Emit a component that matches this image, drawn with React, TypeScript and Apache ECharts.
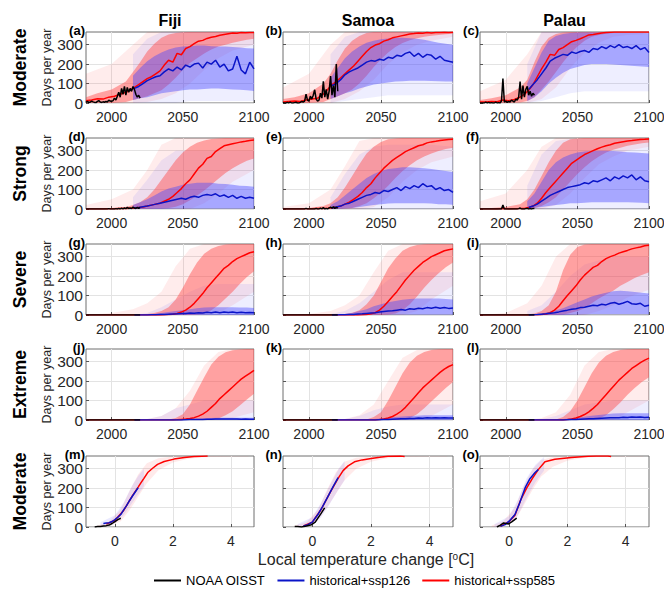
import React, { useEffect, useRef } from "react";
import * as echarts from "echarts";

type Pt = [number, number];

// ---------- x positions ----------
const years = [1982, 1986, 1990, 1994, 1998, 2002, 2006, 2010, 2013, 2016, 2019, 2022, 2025, 2028, 2031, 2034, 2037, 2040, 2043, 2046, 2049, 2052, 2055, 2058, 2061, 2064, 2067, 2070, 2073, 2076, 2079, 2082, 2085, 2088, 2091, 2094, 2097, 2100];
const blueYears = [2016, 2019, 2022, 2025, 2028, 2031, 2034, 2037, 2040, 2043, 2046, 2049, 2052, 2055, 2058, 2061, 2064, 2067, 2070, 2073, 2076, 2079, 2082, 2085, 2088, 2091, 2094, 2097, 2100];
const bandYears = [1982, 1990, 2000, 2010, 2015, 2020, 2025, 2030, 2035, 2040, 2045, 2050, 2055, 2060, 2065, 2070, 2075, 2080, 2085, 2090, 2095, 2100];
const blueBandYears = [2015, 2020, 2025, 2030, 2035, 2040, 2045, 2050, 2055, 2060, 2065, 2070, 2075, 2080, 2085, 2090, 2095, 2100];
const envYears = [1982, 2000, 2015, 2025, 2035, 2045, 2055, 2065, 2075, 2085, 2100];
const blueEnvYears = [2015, 2025, 2035, 2045, 2055, 2065, 2075, 2085, 2100];
const obsYears = [1982, 1983, 1984, 1985, 1986, 1987, 1988, 1989, 1990, 1991, 1992, 1993, 1994, 1995, 1996, 1997, 1998, 1999, 2000, 2001, 2002, 2003, 2004, 2005, 2006, 2007, 2008, 2009, 2010, 2011, 2012, 2013, 2014, 2015, 2016, 2017, 2018, 2019, 2020];

// ---------- labels ----------
const columns = ["Fiji", "Samoa", "Palau"];
const rowNames = ["Moderate", "Strong", "Severe", "Extreme", "Moderate"];
const letters = ["a", "b", "c", "d", "e", "f", "g", "h", "i", "j", "k", "l", "m", "n", "o"];
const yearTicks = [2000, 2050, 2100];
const tempTicks = [0, 2, 4];
const dayTicks = [0, 100, 200, 300];
const legendNames = ["NOAA OISST", "historical+ssp126", "historical+ssp585"];

// ---------- ssp585 ensemble mean ----------
const redA = [12, 15, 22, 20, 30, 35, 45, 55, 65, 80, 95, 110, 125, 135, 150, 165, 195, 220, 210, 255, 248, 280, 290, 305, 318, 322, 332, 338, 342, 348, 352, 356, 360, 358, 362, 361, 363, 362];
const redB = [5, 8, 10, 8, 15, 20, 25, 45, 70, 95, 110, 130, 150, 170, 190, 215, 240, 265, 285, 298, 305, 318, 325, 335, 340, 345, 350, 355, 357, 360, 358, 362, 360, 363, 362, 364, 363, 364];
const redC = [5, 5, 8, 6, 15, 12, 18, 30, 45, 65, 95, 135, 175, 210, 250, 245, 275, 285, 300, 315, 322, 330, 340, 350, 352, 356, 360, 362, 364, 365, 365, 365, 365, 365, 365, 365, 365, 365];
const redD = [0, 0, 0, 0, 1, 1, 2, 3, 4, 5, 8, 10, 15, 20, 25, 30, 40, 50, 65, 85, 105, 130, 150, 180, 210, 230, 260, 270, 295, 310, 325, 330, 335, 340, 345, 348, 352, 355];
const redE = [0, 0, 0, 0, 1, 1, 2, 3, 4, 6, 10, 15, 25, 35, 50, 65, 85, 110, 130, 160, 185, 210, 230, 250, 265, 280, 295, 305, 315, 325, 330, 340, 345, 348, 352, 355, 357, 358];
const redF = [0, 0, 0, 0, 2, 0, 1, 2, 3, 8, 15, 30, 55, 85, 110, 135, 160, 185, 210, 235, 250, 265, 280, 290, 300, 310, 318, 325, 330, 338, 342, 346, 350, 352, 355, 357, 358, 360];
const redG = [0, 0, 0, 0, 0, 0, 0, 0, 0, 0, 0, 0, 0, 0, 0, 0, 1, 2, 4, 8, 15, 25, 40, 60, 85, 110, 140, 165, 190, 215, 240, 255, 275, 290, 300, 310, 320, 325];
const redH = [0, 0, 0, 0, 0, 0, 0, 0, 0, 0, 0, 0, 0, 0, 0, 0, 1, 3, 6, 12, 25, 45, 70, 95, 120, 150, 180, 205, 230, 250, 270, 285, 300, 310, 320, 330, 335, 340];
const redI = [0, 0, 0, 0, 0, 0, 0, 0, 0, 0, 1, 1, 2, 5, 12, 25, 45, 73, 100, 125, 150, 180, 205, 225, 245, 255, 275, 290, 300, 308, 318, 325, 332, 340, 345, 350, 356, 358];
const redJ = [0, 0, 0, 0, 0, 0, 0, 0, 0, 0, 0, 0, 0, 0, 0, 0, 0, 0, 0, 1, 3, 5, 8, 12, 20, 30, 45, 65, 85, 110, 130, 150, 170, 190, 210, 225, 240, 255];
const redK = [0, 0, 0, 0, 0, 0, 0, 0, 0, 0, 0, 0, 0, 0, 0, 0, 0, 0, 0, 0, 2, 5, 10, 18, 30, 45, 65, 90, 115, 140, 165, 185, 205, 225, 245, 262, 275, 285];
const redL = [0, 0, 0, 0, 0, 0, 0, 0, 0, 0, 0, 0, 0, 0, 0, 0, 0, 0, 2, 5, 10, 18, 28, 42, 60, 80, 105, 130, 155, 180, 205, 225, 245, 265, 280, 295, 308, 318];

// ---------- ssp126 ensemble mean ----------
const blueA = [75, 85, 100, 115, 125, 135, 140, 160, 175, 165, 185, 170, 195, 185, 200, 205, 180, 210, 200, 220, 185, 200, 165, 175, 240, 170, 150, 210, 175];
const blueB = [90, 100, 120, 145, 160, 170, 180, 195, 210, 218, 215, 225, 220, 235, 230, 245, 240, 255, 262, 240, 255, 235, 250, 245, 225, 240, 220, 215, 210];
const blueC = [70, 95, 120, 150, 180, 215, 230, 240, 250, 245, 262, 255, 265, 270, 260, 280, 275, 290, 280, 295, 285, 300, 285, 290, 280, 295, 275, 285, 260];
const blueD = [5, 8, 12, 15, 20, 25, 30, 35, 40, 45, 50, 55, 50, 60, 65, 60, 70, 75, 70, 78, 65, 72, 60, 70, 55, 65, 55, 60, 55];
const blueE = [5, 10, 15, 25, 30, 40, 50, 60, 70, 75, 85, 80, 95, 90, 100, 110, 95, 115, 105, 120, 110, 130, 115, 120, 100, 110, 95, 100, 85];
const blueF = [8, 15, 25, 40, 55, 70, 80, 90, 100, 110, 115, 120, 125, 135, 130, 145, 140, 150, 160, 145, 165, 155, 170, 160, 175, 150, 165, 145, 140];
const blueG = [0, 0, 0, 0, 1, 1, 2, 3, 4, 5, 6, 8, 8, 10, 9, 12, 10, 14, 12, 15, 12, 16, 13, 15, 12, 14, 12, 13, 12];
const blueH = [0, 0, 1, 1, 2, 3, 5, 6, 8, 10, 12, 15, 18, 20, 22, 25, 28, 25, 32, 30, 35, 32, 38, 35, 40, 35, 38, 34, 36];
const blueI = [0, 1, 2, 4, 6, 9, 12, 16, 21, 25, 30, 32, 38, 40, 45, 50, 48, 55, 52, 60, 64, 55, 62, 70, 58, 55, 60, 45, 50];
const blueJ = [0, 0, 0, 0, 0, 0, 0, 0, 0, 0, 0, 0, 1, 2, 2, 3, 3, 4, 4, 5, 5, 5, 5, 5, 5, 4, 5, 4, 4];
const blueK = [0, 0, 0, 0, 0, 0, 0, 0, 0, 0, 0, 1, 2, 3, 4, 5, 6, 7, 8, 8, 10, 9, 11, 10, 12, 10, 11, 10, 10];
const blueL = [0, 0, 0, 0, 0, 0, 0, 0, 0, 1, 2, 3, 4, 5, 6, 7, 8, 9, 10, 11, 12, 12, 14, 13, 15, 14, 15, 13, 14];

// ---------- ssp585 spread (low / high) ----------
const redLoA = [0, 0, 0, 5, 15, 25, 35, 50, 65, 95, 130, 170, 205, 230, 255, 275, 290, 300, 310, 318, 325, 330];
const redHiA = [30, 50, 70, 110, 160, 210, 265, 305, 335, 352, 360, 364, 365, 365, 365, 365, 365, 365, 365, 365, 365, 365];
const redLoB = [0, 0, 0, 5, 20, 35, 50, 70, 100, 140, 185, 225, 260, 288, 308, 322, 333, 340, 346, 350, 354, 356];
const redHiB = [20, 30, 50, 100, 150, 220, 280, 320, 345, 360, 365, 365, 365, 365, 365, 365, 365, 365, 365, 365, 365, 365];
const redLoC = [0, 0, 0, 3, 10, 30, 70, 110, 160, 210, 255, 290, 320, 340, 350, 356, 360, 362, 363, 364, 365, 365];
const redHiC = [15, 25, 40, 80, 120, 210, 290, 335, 355, 363, 365, 365, 365, 365, 365, 365, 365, 365, 365, 365, 365, 365];
const redLoD = [0, 0, 0, 0, 0, 0, 0, 2, 3, 5, 12, 25, 45, 70, 95, 125, 155, 185, 210, 230, 248, 260];
const redHiD = [0, 2, 5, 10, 20, 35, 60, 100, 150, 200, 250, 290, 320, 340, 352, 360, 363, 365, 365, 365, 365, 365];
const redLoE = [0, 0, 0, 0, 0, 0, 2, 5, 15, 30, 55, 85, 120, 160, 195, 225, 250, 270, 285, 298, 308, 315];
const redHiE = [0, 2, 5, 15, 30, 60, 110, 170, 230, 285, 320, 345, 358, 363, 365, 365, 365, 365, 365, 365, 365, 365];
const redLoF = [0, 0, 0, 0, 0, 5, 15, 35, 60, 100, 140, 180, 215, 245, 270, 290, 305, 315, 325, 332, 338, 342];
const redHiF = [5, 5, 10, 25, 50, 100, 170, 240, 300, 340, 358, 363, 365, 365, 365, 365, 365, 365, 365, 365, 365, 365];
const redLoG = [0, 0, 0, 0, 0, 0, 0, 0, 0, 0, 0, 0, 0, 2, 8, 25, 50, 85, 120, 160, 195, 225];
const redHiG = [0, 0, 0, 0, 0, 2, 5, 10, 20, 40, 80, 140, 210, 270, 315, 340, 355, 362, 365, 365, 365, 365];
const redLoH = [0, 0, 0, 0, 0, 0, 0, 0, 0, 0, 0, 0, 2, 8, 25, 55, 95, 140, 180, 215, 245, 270];
const redHiH = [0, 0, 0, 0, 0, 2, 5, 12, 25, 55, 100, 170, 240, 290, 330, 350, 360, 364, 365, 365, 365, 365];
const redLoI = [0, 0, 0, 0, 0, 0, 0, 0, 0, 2, 10, 20, 35, 60, 85, 105, 125, 150, 170, 190, 205, 220];
const redHiI = [0, 0, 0, 0, 2, 8, 20, 50, 120, 230, 310, 350, 363, 365, 365, 365, 365, 365, 365, 365, 365, 365];
const redLoJ = [0, 0, 0, 0, 0, 0, 0, 0, 0, 0, 0, 0, 0, 0, 0, 2, 8, 25, 45, 75, 105, 135];
const redHiJ = [0, 0, 0, 0, 0, 0, 0, 0, 0, 2, 10, 30, 80, 150, 220, 285, 325, 348, 358, 363, 365, 365];
const redLoK = [0, 0, 0, 0, 0, 0, 0, 0, 0, 0, 0, 0, 0, 0, 2, 10, 30, 60, 95, 130, 165, 195];
const redHiK = [0, 0, 0, 0, 0, 0, 0, 0, 0, 3, 15, 40, 100, 170, 240, 295, 330, 350, 360, 364, 365, 365];
const redLoL = [0, 0, 0, 0, 0, 0, 0, 0, 0, 0, 0, 0, 0, 2, 8, 25, 55, 90, 130, 165, 195, 220];
const redHiL = [0, 0, 0, 0, 0, 0, 0, 0, 3, 15, 45, 100, 170, 240, 295, 330, 350, 360, 364, 365, 365, 365];

// ---------- ssp126 spread (low / high) ----------
const blueLoA = [15, 25, 30, 40, 50, 55, 60, 65, 70, 70, 72, 75, 75, 72, 70, 68, 65, 62];
const blueHiA = [140, 180, 215, 240, 260, 275, 285, 290, 292, 295, 295, 292, 290, 290, 288, 285, 282, 280];
const blueLoB = [20, 35, 50, 60, 75, 85, 95, 100, 105, 110, 112, 115, 115, 115, 113, 112, 110, 110];
const blueHiB = [130, 180, 230, 265, 290, 310, 320, 328, 332, 335, 335, 333, 330, 325, 318, 310, 305, 300];
const blueLoC = [10, 30, 60, 100, 130, 155, 175, 185, 195, 200, 200, 200, 198, 195, 193, 190, 188, 185];
const blueHiC = [100, 180, 260, 320, 345, 355, 360, 362, 363, 363, 363, 362, 362, 361, 360, 360, 360, 358];
const blueLoD = [0, 0, 0, 0, 0, 1, 2, 2, 3, 3, 3, 3, 3, 3, 3, 2, 2, 2];
const blueHiD = [20, 35, 50, 70, 90, 105, 115, 125, 130, 135, 135, 135, 130, 128, 125, 120, 118, 115];
const blueLoE = [0, 0, 2, 5, 10, 15, 20, 25, 28, 30, 30, 30, 30, 30, 28, 25, 25, 22];
const blueHiE = [20, 40, 70, 100, 130, 160, 180, 195, 205, 210, 215, 215, 212, 210, 205, 200, 195, 190];
const blueLoF = [0, 5, 10, 15, 20, 25, 30, 30, 32, 35, 35, 35, 35, 35, 35, 33, 32, 30];
const blueHiF = [40, 80, 140, 200, 240, 265, 280, 290, 295, 298, 300, 300, 298, 295, 292, 290, 288, 285];
const blueLoG = [0, 0, 0, 0, 0, 0, 0, 0, 0, 0, 0, 0, 0, 0, 0, 0, 0, 0];
const blueHiG = [0, 0, 2, 5, 10, 15, 20, 25, 30, 35, 38, 40, 40, 40, 40, 38, 38, 36];
const blueLoH = [0, 0, 0, 0, 0, 0, 1, 2, 3, 3, 3, 3, 3, 3, 3, 3, 3, 3];
const blueHiH = [0, 2, 5, 10, 20, 30, 45, 55, 65, 72, 78, 82, 85, 85, 85, 85, 82, 80];
const blueLoI = [0, 0, 0, 0, 0, 0, 1, 2, 4, 5, 5, 5, 5, 5, 5, 5, 5, 5];
const blueHiI = [0, 3, 8, 15, 25, 35, 50, 65, 80, 95, 105, 115, 122, 125, 122, 118, 115, 110];
const blueLoJ = [0, 0, 0, 0, 0, 0, 0, 0, 0, 0, 0, 0, 0, 0, 0, 0, 0, 0];
const blueHiJ = [0, 0, 0, 0, 0, 0, 1, 3, 4, 6, 8, 10, 11, 12, 12, 12, 12, 12];
const blueLoK = [0, 0, 0, 0, 0, 0, 0, 0, 0, 0, 0, 0, 0, 0, 0, 0, 0, 0];
const blueHiK = [0, 0, 0, 0, 0, 2, 5, 8, 12, 15, 18, 20, 22, 25, 25, 25, 25, 25];
const blueLoL = [0, 0, 0, 0, 0, 0, 0, 0, 0, 0, 0, 0, 0, 0, 0, 0, 0, 0];
const blueHiL = [0, 0, 0, 0, 2, 5, 8, 12, 17, 22, 26, 30, 33, 35, 35, 35, 35, 35];

// ---------- faint envelope of individual members (outer range) ----------
const redOutHiA = [150, 200, 300, 365, 365, 365, 365, 365, 365, 365, 365];
const redOutLoA = [0, 0, 0, 5, 20, 50, 100, 170, 230, 270, 300];
const blueOutHiA = [250, 330, 365, 365, 365, 365, 365, 365, 365];
const blueOutLoA = [0, 0, 0, 0, 10, 10, 10, 10, 10];
const redOutHiB = [80, 150, 300, 365, 365, 365, 365, 365, 365, 365, 365];
const redOutLoB = [0, 0, 0, 20, 60, 120, 200, 260, 300, 320, 340];
const blueOutHiB = [250, 340, 365, 365, 365, 365, 365, 365, 365];
const blueOutLoB = [0, 10, 20, 30, 40, 40, 40, 40, 40];
const redOutHiC = [60, 120, 250, 365, 365, 365, 365, 365, 365, 365, 365];
const redOutLoC = [0, 0, 0, 20, 80, 180, 260, 310, 340, 350, 355];
const blueOutHiC = [200, 365, 365, 365, 365, 365, 365, 365, 365];
const blueOutLoC = [0, 10, 30, 50, 60, 60, 60, 60, 60];
const redOutHiD = [20, 50, 100, 200, 330, 365, 365, 365, 365, 365, 365];
const redOutLoD = [0, 0, 0, 0, 0, 0, 0, 30, 80, 140, 200];
const blueOutHiD = [60, 150, 250, 300, 300, 300, 300, 300, 300];
const blueOutLoD = [0, 0, 0, 0, 0, 0, 0, 0, 0];
const redOutHiE = [10, 30, 100, 220, 350, 365, 365, 365, 365, 365, 365];
const redOutLoE = [0, 0, 0, 0, 0, 10, 60, 140, 200, 240, 270];
const blueOutHiE = [60, 180, 280, 320, 330, 330, 330, 330, 320];
const blueOutLoE = [0, 0, 0, 0, 0, 0, 0, 0, 0];
const redOutHiF = [40, 80, 200, 320, 365, 365, 365, 365, 365, 365, 365];
const redOutLoF = [0, 0, 0, 0, 20, 80, 160, 230, 270, 300, 320];
const blueOutHiF = [120, 280, 350, 360, 360, 360, 360, 360, 360];
const blueOutLoF = [0, 0, 0, 0, 0, 0, 0, 0, 0];
const redOutHiG = [0, 10, 30, 60, 120, 250, 340, 365, 365, 365, 365];
const redOutLoG = [0, 0, 0, 0, 0, 0, 0, 0, 10, 50, 120];
const blueOutHiG = [0, 10, 40, 80, 120, 150, 160, 160, 160];
const blueOutLoG = [0, 0, 0, 0, 0, 0, 0, 0, 0];
const redOutHiH = [0, 5, 20, 50, 100, 220, 330, 365, 365, 365, 365];
const redOutLoH = [0, 0, 0, 0, 0, 0, 0, 0, 20, 80, 150];
const blueOutHiH = [5, 20, 60, 120, 180, 220, 220, 220, 220];
const blueOutLoH = [0, 0, 0, 0, 0, 0, 0, 0, 0];
const redOutHiI = [0, 10, 60, 150, 300, 365, 365, 365, 365, 365, 365];
const redOutLoI = [0, 0, 0, 0, 0, 0, 0, 20, 50, 90, 130];
const blueOutHiI = [20, 50, 120, 200, 260, 280, 300, 300, 300];
const blueOutLoI = [0, 0, 0, 0, 0, 0, 0, 0, 0];
const redOutHiJ = [0, 0, 0, 5, 20, 60, 150, 280, 350, 365, 365];
const redOutLoJ = [0, 0, 0, 0, 0, 0, 0, 0, 0, 10, 40];
const blueOutHiJ = [0, 5, 20, 60, 80, 100, 100, 100, 100];
const blueOutLoJ = [0, 0, 0, 0, 0, 0, 0, 0, 0];
const redOutHiK = [0, 0, 0, 5, 25, 80, 200, 320, 360, 365, 365];
const redOutLoK = [0, 0, 0, 0, 0, 0, 0, 0, 0, 20, 80];
const blueOutHiK = [0, 5, 20, 50, 70, 80, 80, 80, 80];
const blueOutLoK = [0, 0, 0, 0, 0, 0, 0, 0, 0];
const redOutHiL = [0, 0, 0, 10, 40, 130, 280, 350, 365, 365, 365];
const redOutLoL = [0, 0, 0, 0, 0, 0, 0, 0, 0, 40, 100];
const blueOutHiL = [0, 5, 20, 50, 80, 90, 100, 100, 100];
const blueOutLoL = [0, 0, 0, 0, 0, 0, 0, 0, 0];

// ---------- NOAA OISST observations ----------
const obsA = [3, 8, 2, 5, 10, 6, 3, 2, 8, 12, 5, 3, 6, 4, 8, 5, 15, 10, 8, 12, 25, 15, 35, 55, 30, 75, 45, 85, 40, 80, 55, 75, 60, 85, 70, 45, 30, 40, 25];
const obsB = [2, 0, 0, 3, 0, 5, 0, 0, 2, 4, 0, 0, 3, 8, 5, 10, 45, 15, 10, 35, 20, 40, 68, 20, 10, 15, 50, 25, 112, 30, 70, 20, 60, 138, 40, 90, 30, 200, 60];
const obsC = [0, 0, 0, 0, 5, 0, 3, 0, 2, 0, 0, 5, 0, 2, 0, 10, 126, 5, 10, 3, 8, 5, 15, 10, 5, 20, 15, 30, 110, 20, 90, 30, 70, 86, 40, 60, 35, 50, 40];
const obsD = [0, 0, 0, 0, 0, 0, 0, 0, 0, 0, 0, 0, 0, 0, 0, 0, 2, 0, 0, 0, 0, 2, 0, 3, 0, 5, 0, 6, 2, 8, 3, 5, 2, 10, 5, 3, 8, 4, 6];
const obsE = [0, 0, 0, 0, 0, 0, 0, 0, 0, 0, 0, 0, 0, 0, 0, 0, 3, 0, 0, 0, 0, 0, 0, 3, 0, 0, 5, 0, 8, 0, 3, 0, 6, 10, 4, 12, 3, 8, 5];
const obsF = [0, 0, 0, 0, 0, 0, 0, 0, 0, 0, 0, 0, 0, 0, 0, 0, 20, 0, 0, 0, 0, 0, 0, 0, 0, 0, 0, 2, 5, 0, 0, 0, 2, 3, 0, 2, 0, 3, 2];
const obsZero = [0, 0, 0, 0, 0, 0, 0, 0, 0, 0, 0, 0, 0, 0, 0, 0, 0, 0, 0, 0, 0, 0, 0, 0, 0, 0, 0, 0, 0, 0, 0, 0, 0, 0, 0, 0, 0, 0, 0];

// ---------- bottom row: days per year vs local temperature change ----------
const tempObsM: Pt[] = [[-0.7, 0], [-0.6, 2], [-0.5, 3], [-0.4, 5], [-0.3, 7], [-0.2, 10], [-0.1, 18], [0, 28], [0.1, 38], [0.2, 45]];
const tempBlueM: Pt[] = [[-0.4, 18], [-0.3, 20], [-0.2, 22], [-0.1, 28], [0, 38], [0.1, 50], [0.2, 64], [0.3, 88], [0.4, 110], [0.5, 135], [0.6, 158], [0.7, 180], [0.8, 202]];
const tempRedM: Pt[] = [[-0.3, 15], [0, 35], [0.3, 85], [0.6, 160], [0.8, 205], [0.9, 228], [1.0, 250], [1.13, 280], [1.3, 302], [1.47, 322], [1.7, 337], [2.04, 349], [2.4, 357], [2.73, 362], [3.0, 364], [3.2, 365]];
const tempObsN: Pt[] = [[-0.6, 3], [-0.5, 2], [-0.37, 0], [-0.2, 5], [-0.03, 12], [0.1, 25], [0.19, 46], [0.3, 70], [0.42, 98]];
const tempBlueN: Pt[] = [[-0.3, 5], [-0.15, 12], [0, 25], [0.19, 64], [0.35, 105], [0.54, 159], [0.7, 205], [0.88, 254]];
const tempRedN: Pt[] = [[-0.3, 5], [0, 25], [0.3, 90], [0.6, 175], [0.88, 250], [1.05, 290], [1.22, 314], [1.44, 335], [1.7, 345], [2.01, 352], [2.3, 358], [2.58, 364], [3.0, 365], [3.15, 363]];
const tempObsO: Pt[] = [[-0.42, 0], [-0.3, 10], [-0.19, 21], [-0.1, 18], [-0.02, 16], [0.1, 28], [0.26, 46]];
const tempBlueO: Pt[] = [[-0.3, 3], [-0.14, 12], [0, 30], [0.2, 64], [0.35, 120], [0.55, 202], [0.7, 245], [0.89, 280], [1.0, 295]];
const tempRedO: Pt[] = [[-0.3, 3], [0, 28], [0.2, 60], [0.4, 140], [0.6, 200], [0.8, 250], [1.0, 295], [1.23, 335], [1.57, 348], [2.14, 357], [2.71, 364], [3.0, 365], [3.39, 365], [3.5, 362]];
// faint member spread (bottom row)
const tempRedHiM: Pt[] = [[-0.6, 8], [-0.2, 28], [0.2, 90], [0.5, 185], [0.8, 270], [1.1, 328], [1.5, 354], [2.0, 363], [2.5, 365], [4.6, 365]];
const tempRedLoM: Pt[] = [[-0.6, 0], [-0.2, 5], [0.2, 30], [0.5, 85], [0.8, 155], [1.1, 225], [1.5, 292], [2.0, 332], [2.5, 350], [3.0, 358], [4.0, 362], [4.6, 362]];
const tempBlueHiM: Pt[] = [[-0.5, 25], [0, 60], [0.3, 125], [0.6, 215], [0.8, 262], [1.0, 300]];
const tempBlueLoM: Pt[] = [[-0.5, 5], [0, 20], [0.3, 60], [0.6, 125], [0.8, 168], [1.0, 210]];
const tempRedHiN: Pt[] = [[-0.6, 8], [-0.2, 25], [0.2, 90], [0.5, 190], [0.8, 280], [1.1, 335], [1.5, 356], [2.0, 363], [2.5, 365], [4.6, 365]];
const tempRedLoN: Pt[] = [[-0.6, 0], [-0.2, 2], [0.2, 35], [0.5, 100], [0.8, 170], [1.1, 240], [1.5, 300], [2.0, 335], [2.5, 352], [3.0, 360], [4.0, 362], [4.6, 362]];
const tempBlueHiN: Pt[] = [[-0.5, 15], [0, 50], [0.3, 125], [0.6, 215], [0.9, 300], [1.1, 340]];
const tempBlueLoN: Pt[] = [[-0.5, 0], [0, 10], [0.3, 50], [0.6, 120], [0.9, 195], [1.1, 240]];
const tempRedHiO: Pt[] = [[-0.6, 8], [-0.2, 30], [0.2, 100], [0.5, 210], [0.8, 295], [1.1, 345], [1.5, 360], [2.0, 364], [2.5, 365], [4.6, 365]];
const tempRedLoO: Pt[] = [[-0.6, 0], [-0.2, 3], [0.2, 35], [0.5, 110], [0.8, 190], [1.1, 260], [1.5, 310], [2.0, 340], [2.5, 355], [3.0, 360], [4.0, 362], [4.6, 362]];
const tempBlueHiO: Pt[] = [[-0.5, 15], [0, 55], [0.3, 140], [0.6, 250], [0.9, 320], [1.2, 360]];
const tempBlueLoO: Pt[] = [[-0.5, 0], [0, 12], [0.3, 60], [0.6, 150], [0.9, 230], [1.2, 290]];

const zip = (xs: number[], ys: number[]): Pt[] => xs.map((x, i) => [x, ys[i]] as Pt);

interface Panel {
  temp: boolean;
  red: Pt[]; blue: Pt[]; obs: Pt[];
  redHi: Pt[]; redLo: Pt[]; blueHi: Pt[]; blueLo: Pt[];
  env?: { redHi: Pt[]; redLo: Pt[]; blueHi: Pt[]; blueLo: Pt[] };
}

const timePanel = (
  r: number[], b: number[], rl: number[], rh: number[], bl: number[], bh: number[], o: number[],
  roh: number[], rol: number[], boh: number[], bol: number[],
): Panel => ({
  temp: false,
  red: zip(years, r), blue: zip(blueYears, b), obs: zip(obsYears, o),
  redLo: zip(bandYears, rl), redHi: zip(bandYears, rh),
  blueLo: zip(blueBandYears, bl), blueHi: zip(blueBandYears, bh),
  env: {
    redHi: zip(envYears, roh), redLo: zip(envYears, rol),
    blueHi: zip(blueEnvYears, boh), blueLo: zip(blueEnvYears, bol),
  },
});

const panels: Panel[] = [
  timePanel(redA, blueA, redLoA, redHiA, blueLoA, blueHiA, obsA, redOutHiA, redOutLoA, blueOutHiA, blueOutLoA),
  timePanel(redB, blueB, redLoB, redHiB, blueLoB, blueHiB, obsB, redOutHiB, redOutLoB, blueOutHiB, blueOutLoB),
  timePanel(redC, blueC, redLoC, redHiC, blueLoC, blueHiC, obsC, redOutHiC, redOutLoC, blueOutHiC, blueOutLoC),
  timePanel(redD, blueD, redLoD, redHiD, blueLoD, blueHiD, obsD, redOutHiD, redOutLoD, blueOutHiD, blueOutLoD),
  timePanel(redE, blueE, redLoE, redHiE, blueLoE, blueHiE, obsE, redOutHiE, redOutLoE, blueOutHiE, blueOutLoE),
  timePanel(redF, blueF, redLoF, redHiF, blueLoF, blueHiF, obsF, redOutHiF, redOutLoF, blueOutHiF, blueOutLoF),
  timePanel(redG, blueG, redLoG, redHiG, blueLoG, blueHiG, obsZero, redOutHiG, redOutLoG, blueOutHiG, blueOutLoG),
  timePanel(redH, blueH, redLoH, redHiH, blueLoH, blueHiH, obsZero, redOutHiH, redOutLoH, blueOutHiH, blueOutLoH),
  timePanel(redI, blueI, redLoI, redHiI, blueLoI, blueHiI, obsZero, redOutHiI, redOutLoI, blueOutHiI, blueOutLoI),
  timePanel(redJ, blueJ, redLoJ, redHiJ, blueLoJ, blueHiJ, obsZero, redOutHiJ, redOutLoJ, blueOutHiJ, blueOutLoJ),
  timePanel(redK, blueK, redLoK, redHiK, blueLoK, blueHiK, obsZero, redOutHiK, redOutLoK, blueOutHiK, blueOutLoK),
  timePanel(redL, blueL, redLoL, redHiL, blueLoL, blueHiL, obsZero, redOutHiL, redOutLoL, blueOutHiL, blueOutLoL),
  { temp: true, red: tempRedM, blue: tempBlueM, obs: tempObsM, redHi: tempRedHiM, redLo: tempRedLoM, blueHi: tempBlueHiM, blueLo: tempBlueLoM },
  { temp: true, red: tempRedN, blue: tempBlueN, obs: tempObsN, redHi: tempRedHiN, redLo: tempRedLoN, blueHi: tempBlueHiN, blueLo: tempBlueLoN },
  { temp: true, red: tempRedO, blue: tempBlueO, obs: tempObsO, redHi: tempRedHiO, redLo: tempRedLoO, blueHi: tempBlueHiO, blueLo: tempBlueLoO },
];

// ---------- layout ----------
const FONT = "'Liberation Sans', Arial, Helvetica, sans-serif";
const colLeft = [86, 283, 480];
const colWidth = [168, 170, 169];
const rowTop = [32, 138, 244, 349, 456];
const rowHeight = 71;
const RED = "#ff0000";
const BLUE = "#0a14c8";
const BLACK = "#000000";

function bandSeries(gi: number, upper: Pt[], lower: Pt[], fill: string, z: number) {
  return {
    type: "custom",
    xAxisIndex: gi,
    yAxisIndex: gi,
    z,
    silent: true,
    clip: true,
    data: [upper[0]],
    renderItem: (_p: any, api: any) => {
      const pts = upper.map((p) => api.coord(p)).concat(lower.slice().reverse().map((p) => api.coord(p)));
      return { type: "polygon", shape: { points: pts }, style: { fill } };
    },
  };
}

function lineSeries(gi: number, name: string, data: Pt[], color: string, z: number, width = 1.5) {
  return {
    type: "line",
    name,
    xAxisIndex: gi,
    yAxisIndex: gi,
    data,
    symbol: "none",
    showSymbol: false,
    z,
    silent: true,
    lineStyle: { color, width },
    itemStyle: { color },
  };
}

const plain = (v: number) => String(v);

function buildOption() {
  const grid: any[] = [];
  const xAxis: any[] = [];
  const yAxis: any[] = [];
  const series: any[] = [];
  const graphic: any[] = [];

  panels.forEach((p, i) => {
    const row = Math.floor(i / 3);
    const col = i % 3;
    grid.push({
      left: colLeft[col], top: rowTop[row], width: colWidth[col], height: rowHeight,
      show: true, borderColor: "#6e6e6e", borderWidth: 1, containLabel: false, outerBoundsMode: "none",
    });
    const xt = p.temp ? tempTicks : yearTicks;
    xAxis.push({
      type: "value", gridIndex: i,
      min: p.temp ? -1 : 1982, max: p.temp ? 4.8 : 2100,
      axisLine: { show: false, onZero: false },
      axisTick: { show: true, inside: true, length: 3, customValues: xt, lineStyle: { color: "#555" } },
      axisLabel: { show: true, customValues: xt, formatter: plain, fontSize: 14, color: "#262626", margin: 7, fontFamily: FONT },
      splitLine: { show: true, lineStyle: { color: "#e3e3e3", width: 1 } },
    });
    yAxis.push({
      type: "value", gridIndex: i, min: 0, max: 365,
      axisLine: { show: false, onZero: false },
      axisTick: { show: true, inside: true, length: 3, customValues: dayTicks, lineStyle: { color: "#555" } },
      axisLabel: { show: col === 0, customValues: dayTicks, formatter: plain, fontSize: 15.5, color: "#262626", margin: 3, fontFamily: FONT },
      splitLine: { show: true, lineStyle: { color: "#e3e3e3", width: 1 } },
    });
    if (p.env) {
      series.push(bandSeries(i, p.env.redHi, p.env.redLo, "rgba(255,40,40,0.09)", 1));
      series.push(bandSeries(i, p.env.blueHi, p.env.blueLo, "rgba(40,40,255,0.08)", 1));
    }
    const redFill = p.temp ? "rgba(255,90,90,0.13)" : "rgba(255,70,70,0.45)";
    const blueFill = p.temp ? "rgba(90,90,255,0.13)" : "rgba(70,70,255,0.42)";
    series.push(bandSeries(i, p.redHi, p.redLo, redFill, 2));
    series.push(bandSeries(i, p.blueHi, p.blueLo, blueFill, 2));
    series.push(lineSeries(i, legendNames[2], p.red, RED, 3));
    series.push(lineSeries(i, legendNames[1], p.blue, BLUE, 4));
    series.push(lineSeries(i, legendNames[0], p.obs, BLACK, 5));

    graphic.push({
      type: "text", x: colLeft[col] - 1, y: rowTop[row] - 2, z: 10,
      style: { text: `(${letters[i]})`, fontSize: 13, fontWeight: "bold", fontFamily: FONT, fill: "#000", align: "right", verticalAlign: "middle", textAlign: "right", textVerticalAlign: "middle" },
    });
  });

  columns.forEach((c, ci) => {
    graphic.push({
      type: "text", x: colLeft[ci] + colWidth[ci] / 2, y: 20,
      style: { text: c, fontSize: 16, fontWeight: "bold", fontFamily: FONT, fill: "#000", align: "center", verticalAlign: "middle", textAlign: "center", textVerticalAlign: "middle" },
    });
  });

  rowNames.forEach((r, ri) => {
    const cy = rowTop[ri] + rowHeight / 2;
    graphic.push({
      type: "text", x: 20, y: cy, rotation: Math.PI / 2,
      style: { text: r, fontSize: 17.5, fontWeight: "bold", fontFamily: FONT, fill: "#000", align: "center", verticalAlign: "middle", textAlign: "center", textVerticalAlign: "middle" },
    });
    graphic.push({
      type: "text", x: 47, y: cy, rotation: Math.PI / 2,
      style: { text: "Days per year", fontSize: 12.5, fontFamily: FONT, fill: "#262626", align: "center", verticalAlign: "middle", textAlign: "center", textVerticalAlign: "middle" },
    });
  });

  graphic.push({
    type: "text", x: 366, y: 559,
    style: {
      text: "Local temperature change [{sup|o}C]",
      fontSize: 16, fontFamily: FONT, fill: "#262626",
      align: "center", verticalAlign: "middle", textAlign: "center", textVerticalAlign: "middle",
      rich: { sup: { fontSize: 10, fontFamily: FONT, fill: "#262626", verticalAlign: "top", lineHeight: 16 } },
    },
  });

  return {
    animation: false,
    textStyle: { fontFamily: FONT },
    grid, xAxis, yAxis, series, graphic,
    legend: {
      data: legendNames,
      left: 149, top: 569,
      icon: "rect", itemWidth: 27, itemHeight: 2, itemGap: 12,
      selectedMode: false,
      textStyle: { fontSize: 13, color: "#000", fontFamily: FONT },
    },
  };
}

export default function App() {
  const ref = useRef<HTMLDivElement>(null);
  useEffect(() => {
    if (!ref.current) return;
    const chart = echarts.init(ref.current, undefined, { renderer: "svg" });
    chart.setOption(buildOption() as any);
    return () => chart.dispose();
  }, []);
  return <div ref={ref} style={{ position: "absolute", left: 0, top: 0, width: 664, height: 589, background: "#fff" }} />;
}
